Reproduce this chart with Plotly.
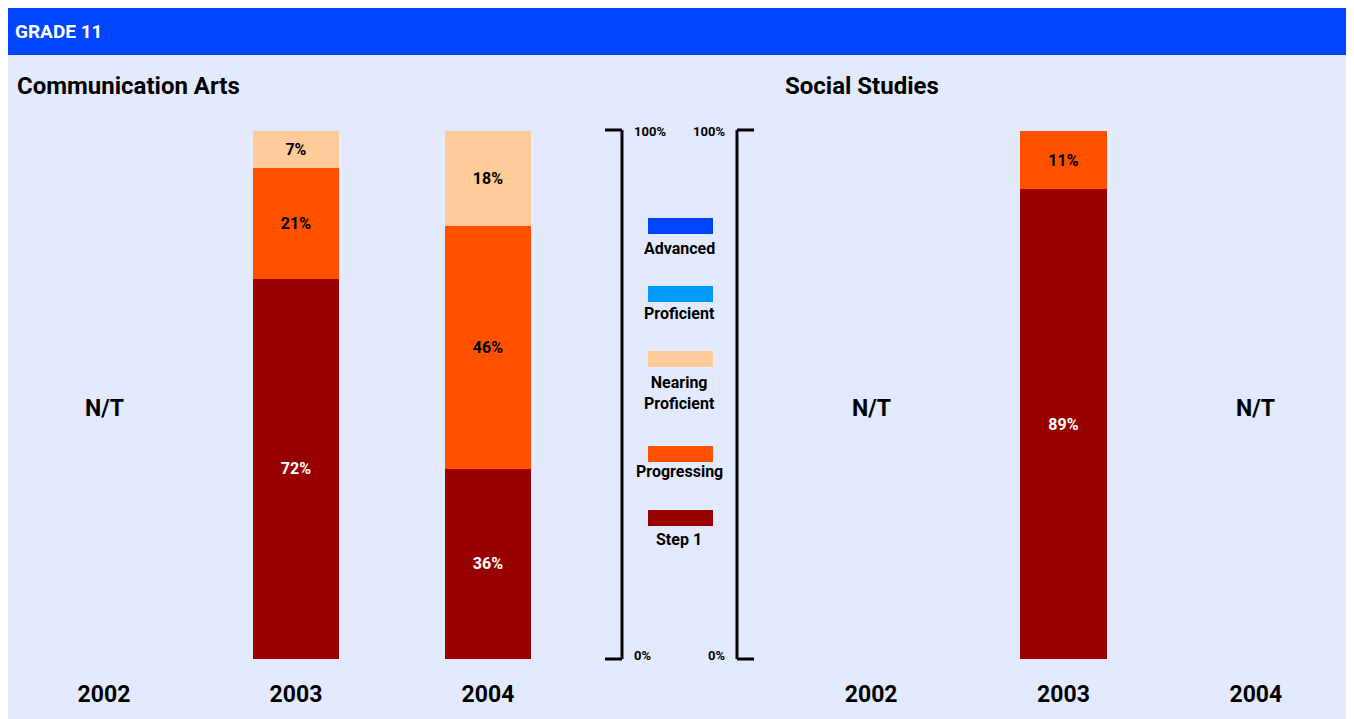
import plotly.graph_objects as go

W, H = 1354, 719
OFF = 8  # page body margin offset of the rendered figure

years = ["2002", "2003", "2004"]
levels = ["Step 1", "Progressing", "Nearing Proficient", "Proficient", "Advanced"]
level_colors = {"Advanced": "#0044FF", "Proficient": "#0099FF", "Nearing Proficient": "#FFCC99",
                "Progressing": "#FF5000", "Step 1": "#990000"}
text_colors = {"Advanced": "white", "Proficient": "black", "Nearing Proficient": "black",
               "Progressing": "black", "Step 1": "white"}

comm_arts = {
    "Step 1": [None, 72, 36],
    "Progressing": [None, 21, 46],
    "Nearing Proficient": [None, 7, 18],
    "Proficient": [None, 0, 0],
    "Advanced": [None, 0, 0],
}
social_studies = {
    "Step 1": [None, 89, None],
    "Progressing": [None, 11, None],
    "Nearing Proficient": [None, 0, None],
    "Proficient": [None, 0, None],
    "Advanced": [None, 0, None],
}
comm_not_tested = ["2002"]
ss_not_tested = ["2002", "2004"]

legend_order = ["Advanced", "Proficient", "Nearing Proficient", "Progressing", "Step 1"]

FONT = "Roboto, Liberation Sans, sans-serif"


def px(x):
    return min(1.0, max(0.0, (x - OFF) / W))


def py(y):
    return min(1.0, max(0.0, 1 - (y - OFF) / H))


fig = go.Figure()

for data, xa, ya in [(comm_arts, "x", "y"), (social_studies, "x2", "y2")]:
    for lv in levels:
        vals = data[lv]
        fig.add_trace(go.Bar(
            x=years, y=vals, xaxis=xa, yaxis=ya,
            marker=dict(color=level_colors[lv], line=dict(width=0)),
            text=[f"<b>{v}%</b>" if v else None for v in vals],
            textposition="inside", insidetextanchor="middle",
            textfont=dict(family=FONT, size=16, color=text_colors[lv]),
            textangle=0, showlegend=False, hoverinfo="skip",
        ))

bottom, top = 659, 131
ydom = [py(bottom), py(top)]
axis_common = dict(type="category", categoryorder="array", categoryarray=years,
                   range=[-0.5, 2.5], automargin=False,
                   showgrid=False, zeroline=False, showline=False, ticks="",
                   tickfont=dict(family=FONT, size=23, color="black", weight="bold"),
                   ticklabelstandoff=19, fixedrange=True)
fig.update_layout(
    xaxis=dict(domain=[px(8), px(584)], anchor="y", **axis_common),
    xaxis2=dict(domain=[px(775), px(1352)], anchor="y2", **axis_common),
    yaxis=dict(domain=ydom, range=[0, 100], visible=False, anchor="x", fixedrange=True),
    yaxis2=dict(domain=ydom, range=[0, 100], visible=False, anchor="x2", fixedrange=True),
)

shapes = []
annotations = []
# backgrounds
shapes.append(dict(type="rect", xref="paper", yref="paper", x0=0, x1=1, y0=py(55), y1=1,
                   fillcolor="#0044FF", line=dict(width=0), layer="below"))
annotations.append(dict(text="<b>GRADE 11</b>", xref="paper", yref="paper", x=px(13), y=py(31),
                        xanchor="left", yanchor="middle", showarrow=False,
                        font=dict(family=FONT, size=19, color="white")))
for title, x in [("Communication Arts", 15), ("Social Studies", 783)]:
    annotations.append(dict(text=f"<b>{title}</b>", xref="paper", yref="paper", x=px(x), y=py(86),
                            xanchor="left", yanchor="middle", showarrow=False,
                            font=dict(family=FONT, size=24, color="black")))

# brackets
lw = 3
for vx, tx0, tx1, lab_x, anchor in [(622, 605, 622, 632, "left"), (737, 737, 754, 727, "right")]:
    shapes.append(dict(type="line", xref="paper", yref="paper", x0=px(vx), x1=px(vx),
                       y0=py(659), y1=py(130), line=dict(color="black", width=lw)))
    for yy in (130, 659):
        shapes.append(dict(type="line", xref="paper", yref="paper", x0=px(tx0), x1=px(tx1),
                           y0=py(yy), y1=py(yy), line=dict(color="black", width=lw)))
    for txt, yy in [("100%", 131), ("0%", 655)]:
        annotations.append(dict(text=f"<b>{txt}</b>", xref="paper", yref="paper", x=px(lab_x), y=py(yy),
                                xanchor=anchor, yanchor="middle", showarrow=False,
                                font=dict(family=FONT, size=13, color="black")))

# legend
legend_rect_y = {"Advanced": 218, "Proficient": 286, "Nearing Proficient": 351,
                 "Progressing": 446, "Step 1": 510}
legend_text_y = {"Advanced": 248, "Proficient": 314, "Nearing Proficient": 393,
                 "Progressing": 472, "Step 1": 539}
for lv in legend_order:
    y0 = legend_rect_y[lv]
    shapes.append(dict(type="rect", xref="paper", yref="paper", x0=px(648), x1=px(713),
                       y0=py(y0 + 16), y1=py(y0), fillcolor=level_colors[lv], line=dict(width=0)))
    label = "Nearing<br>Proficient" if lv == "Nearing Proficient" else lv
    annotations.append(dict(text=f"<b>{label}</b>", xref="paper", yref="paper", x=px(679),
                            y=py(legend_text_y[lv]), xanchor="center", yanchor="middle",
                            showarrow=False, font=dict(family=FONT, size=16, color="black")))

# N/T labels (category index positions)
for cats, xa, ya in [(comm_not_tested, "x", "y"), (ss_not_tested, "x2", "y2")]:
    for c in cats:
        annotations.append(dict(text="<b>N/T</b>", xref=xa, yref=ya, x=years.index(c), y=47.5,
                                showarrow=False, font=dict(family=FONT, size=23, color="black")))

fig.update_layout(
    width=W, height=H, margin=dict(l=0, r=0, t=0, b=0, autoexpand=False),
    paper_bgcolor="#E4EAFD", plot_bgcolor="rgba(0,0,0,0)",
    barmode="stack", bargap=0.547, showlegend=False,
    shapes=shapes, annotations=annotations,
    font=dict(family=FONT, color="black"),
)

fig.write_html("out.html", config={"displayModeBar": False})
